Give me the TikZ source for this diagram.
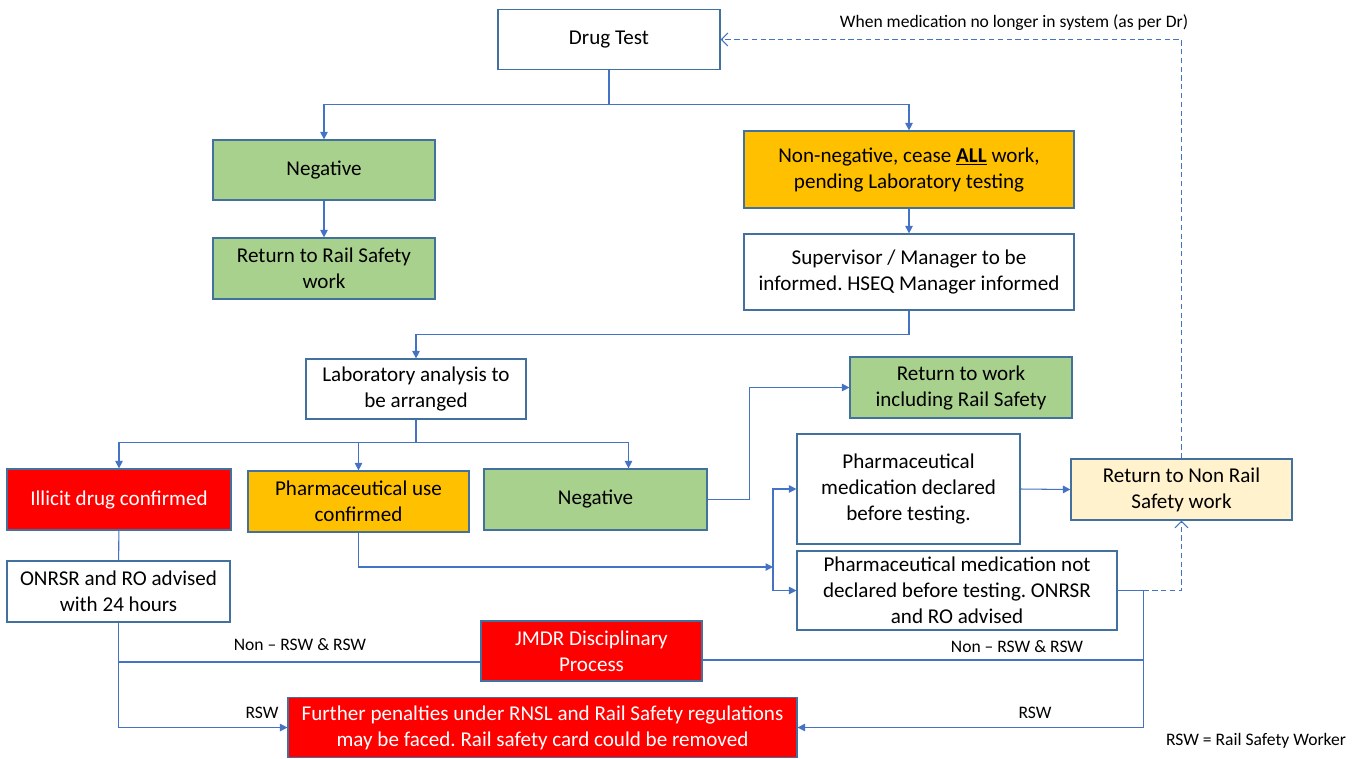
\documentclass[tikz,border=0pt]{standalone}
\usepackage{fontspec}
\setmainfont{Carlito}
\usetikzlibrary{positioning, arrows.meta, calc}
\usepackage{xcolor}
\definecolor{lnblue}{HTML}{4472C4}
\definecolor{edgeblue}{HTML}{41719C}
\definecolor{okgreen}{HTML}{A9D18E}
\definecolor{amber}{HTML}{FFC000}
\definecolor{cream}{HTML}{FFF2CC}
\frenchspacing

\begin{document}
\begin{tikzpicture}[
  x=0.02cm, y=-0.02cm,
  font=\fontsize{12}{14.8}\selectfont, >={Triangle[length=1.5mm, width=1.5mm]},
  box/.style={draw=edgeblue, line width=0.7pt, align=center, inner xsep=0pt, minimum height=1.2cm},
  grn/.style={box, fill=okgreen},
  amb/.style={box, fill=amber},
  redb/.style={box, fill=red, text=white},
  crm/.style={box, fill=cream},
  lbl/.style={font=\fontsize{10}{12}\selectfont, inner sep=1pt},
  con/.style={draw=lnblue, line width=0.6pt},
  dsh/.style={con, dash pattern=on 3pt off 2pt, -{Straight Barb[length=1.3mm, width=2.6mm]}},
]
  \useasboundingbox (0,0) rectangle (1364,758);

  \node[box, minimum width=4.44cm] (drug) at (609,39.5) {Drug Test};
  \node[grn, minimum width=4.44cm] (neg1) at (324,170) {Negative};
  \node[grn, minimum width=4.44cm, minimum height=1.22cm] (ret1) at (324,268.5) {Return to Rail Safety\\work};
  \node[amb, minimum width=6.6cm, minimum height=1.54cm] (nonneg) at (909,169.5) {Non-negative, cease \textbf{\underline{ALL}} work,\\pending Laboratory testing};
  \node[box, minimum width=6.6cm, minimum height=1.52cm] (super) at (909,272) {Supervisor / Manager to be\\informed. HSEQ Manager informed};
  \node[box, minimum width=4.4cm] (lab) at (416,389) {Laboratory analysis to\\be arranged};
  \node[redb, minimum width=4.48cm, minimum height=1.22cm] (illicit) at (119,499.5) {Illicit drug confirmed};
  \node[amb, minimum width=4.42cm, minimum height=1.22cm] (pharm) at (358.5,501.5) {Pharmaceutical use\\confirmed};
  \node[grn, minimum width=4.46cm, minimum height=1.22cm] (neg2) at (595.5,499.5) {Negative};
  \node[grn, minimum width=4.44cm, minimum height=1.22cm] (retwork) at (961,387.5) {Return to work\\including Rail Safety};
  \node[box, minimum width=4.46cm, minimum height=2.2cm] (decl) at (908.5,489) {Pharmaceutical\\medication declared\\before testing.};
  \node[crm, minimum width=4.42cm, minimum height=1.22cm] (nonrail) at (1181.5,489.5) {Return to Non Rail\\Safety work};
  \node[box, minimum width=6.4cm, minimum height=1.58cm] (notdecl) at (957,590.5) {Pharmaceutical medication not\\declared before testing. ONRSR\\and RO advised};
  \node[box, minimum width=4.46cm, minimum height=1.22cm] (onrsr) at (118.5,591.5) {ONRSR and RO advised\\with 24 hours};
  \node[redb, minimum width=4.42cm] (jmdr) at (591.5,651) {JMDR Disciplinary\\Process};
  \node[redb, minimum width=10.18cm] (penal) at (542.5,727.5) {Further penalties under RNSL and Rail Safety regulations\\may be faced. Rail safety card could be removed};

  \draw[con, ->] (drug.south) -- ++(0,34) -| (neg1.north);
  \draw[con, ->] (drug.south) -- ++(0,34) -| (nonneg.north);
  \draw[con, ->] (neg1) -- (ret1);
  \draw[con, ->] (nonneg) -- (super);
  \draw[con, ->] (super.south) -- ++(0,24) -| (lab.north);
  \draw[con, ->] (lab.south) -- ++(0,23) -| (illicit.north);
  \draw[con, ->] (lab.south) -- ++(0,23) -| (pharm.north);
  \draw[con, ->] (lab.south) -- ++(0,23) -| ($(neg2.north)+(33,0)$);
  \draw[con, ->] (neg2.east) -- ++(42,0) |- (retwork.west);

  \coordinate (split) at (773,567);
  \draw[con, ->] (pharm.south) |- (split);
  \draw[con, ->] (split) |- (decl.west);
  \draw[con, ->] (split) |- (notdecl.west);
  \draw[con, ->] (decl.east) -- (nonrail.west);

  \draw[con] (notdecl.east) -- ++(26,0) coordinate (rj);
  \draw[dsh] (rj) -| (nonrail.south);
  \draw[con, ->] (rj) |- (penal.east);
  \coordinate (jr) at ($(jmdr.east)+(0,9)$);
  \draw[con] (jr) -- (jr -| rj);
  \draw[dsh] (nonrail.north) |- (drug.east);

  \draw[con] (illicit) -- (onrsr);
  \draw[con, ->] (onrsr.south) |- (penal.west);
  \coordinate (jl) at ($(jmdr.west)+(0,11)$);
  \draw[con] (jl) -- (jl -| onrsr.south);

  \node[lbl] (tlbl) at (1014,23) {When medication no longer in system (as per Dr)};
  \node[lbl] (nl1) at (300,645) {Non \textendash{} RSW \& RSW};
  \node[lbl] (nl2) at (1017,647) {Non \textendash{} RSW \& RSW};
  \node[lbl] (r1) at (262,713) {RSW};
  \node[lbl] (r2) at (1035,713) {RSW};
  \node[lbl] (key) at (1256,741) {RSW = Rail Safety Worker};
\end{tikzpicture}
\end{document}
